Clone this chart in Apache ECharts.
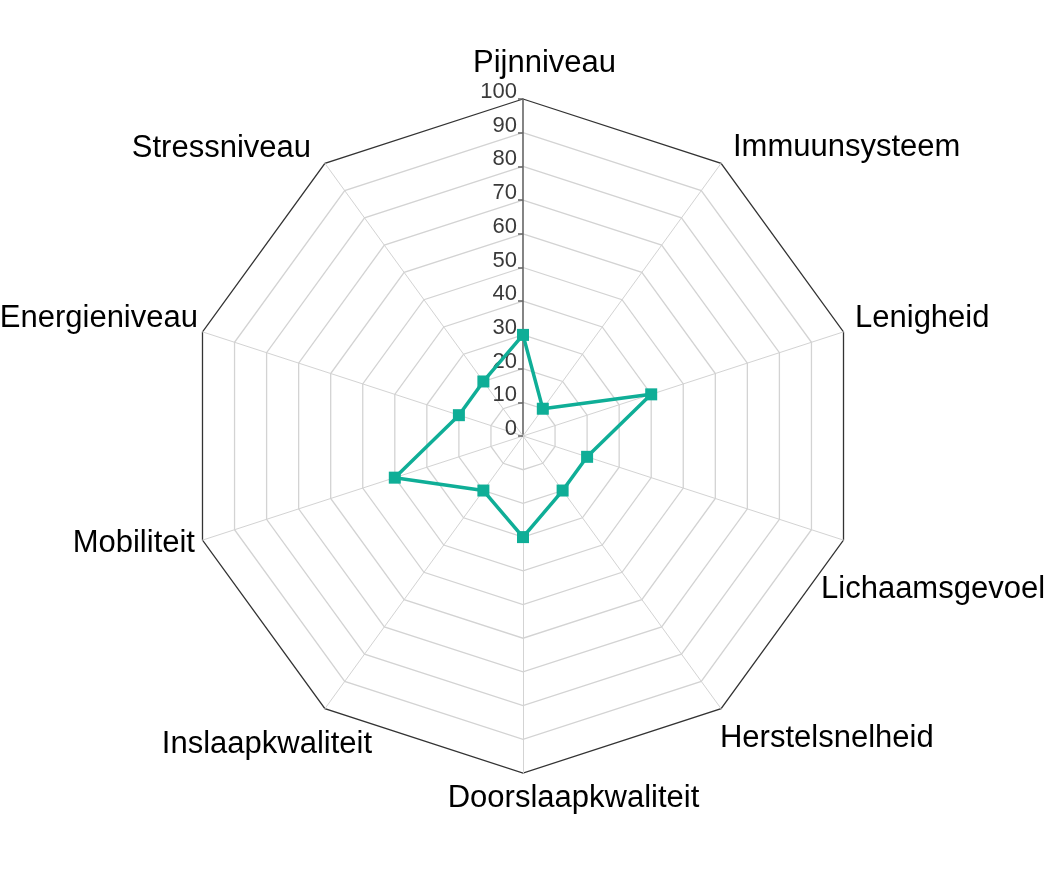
<!DOCTYPE html>
<html>
<head>
<meta charset="utf-8">
<script src="https://cdn.jsdelivr.net/npm/echarts@6/dist/echarts.min.js"></script>
<style>
  html, body { margin: 0; padding: 0; background: #ffffff; }
  #chart { width: 1046px; height: 876px; }
</style>
</head>
<body>
<div id="chart"></div>
<script>
// ---- data (clockwise from the top) ----
const indicators = ['Pijnniveau', 'Immuunsysteem', 'Lenigheid', 'Lichaamsgevoel', 'Herstelsnelheid',
                    'Doorslaapkwaliteit', 'Inslaapkwaliteit', 'Mobiliteit', 'Energieniveau', 'Stressniveau'];
const values = [30, 10, 40, 20, 20, 30, 20, 40, 20, 20];
const axisMin = 0;
const axisMax = 100;
const tickStep = 10;

// ECharts lays radar indicators out counter-clockwise; keep the first one on top
// and reverse the rest so the picture runs clockwise.
const order = [0].concat(indicators.map(function (_, i) { return i; }).slice(1).reverse());

// ---- label nudges (style only), per indicator name index ----
const namePadding = [
  [0, 0, 10, 43],
  [0, 0, 16, 6],
  [0, 0, 20, 2],
  [92, 0, 0, -32],
  [44, 0, 0, -7],
  [0, 0, 0, 101],
  [56, -53, 0, 0],
  [0, -2, 0, 0],
  [0, -5, 20, 0],
  [0, 8, 14, 0]
];
const FONT = 'Liberation Sans, Arial, Helvetica, sans-serif';
const rich = {};
indicators.forEach(function (n, i) {
  rich['n' + i] = { fontSize: 31, fontFamily: FONT, color: '#000', padding: namePadding[i] };
});

const indicatorOpts = order.map(function (i) {
  const o = { name: indicators[i], min: axisMin, max: axisMax };
  if (i === 0) {
    o.axisLine = { show: true, lineStyle: { color: '#666', width: 1.6 } };
    o.axisTick = { show: true, length: 5, lineStyle: { color: '#666', width: 1.5 } };
    o.axisLabel = { show: true, color: '#3a3a3a', fontSize: 22, fontFamily: FONT, margin: 6,
                    verticalAlign: 'bottom', lineHeight: 14 };
  }
  return o;
});
const orderedValues = order.map(function (i) { return values[i]; });

const splitColors = [];
for (let i = 0; i < (axisMax - axisMin) / tickStep; i++) splitColors.push('#d3d3d3');
splitColors.push('#333333');

const chart = echarts.init(document.getElementById('chart'), null, { renderer: 'canvas' });
chart.setOption({
  animation: false,
  backgroundColor: '#ffffff',
  radar: {
    center: [523, 436],
    radius: 337,
    startAngle: 90,
    shape: 'polygon',
    splitNumber: (axisMax - axisMin) / tickStep,
    indicator: indicatorOpts,
    nameGap: 10,
    axisName: {
      color: '#000',
      fontSize: 31,
      fontFamily: FONT,
      formatter: function (name) {
        return '{n' + indicators.indexOf(name) + '|' + name + '}';
      },
      rich: rich
    },
    axisLine: { show: true, lineStyle: { color: '#d3d3d3', width: 1 } },
    axisTick: { show: false },
    axisLabel: { show: false },
    splitLine: { show: true, lineStyle: { color: splitColors, width: 1.3 } },
    splitArea: { show: false }
  },
  series: [{
    type: 'radar',
    symbol: 'rect',
    symbolSize: 12,
    lineStyle: { color: '#0fae97', width: 3.5 },
    itemStyle: { color: '#0fae97' },
    data: [{ value: orderedValues, name: 'Score' }]
  }]
});
</script>
</body>
</html>
